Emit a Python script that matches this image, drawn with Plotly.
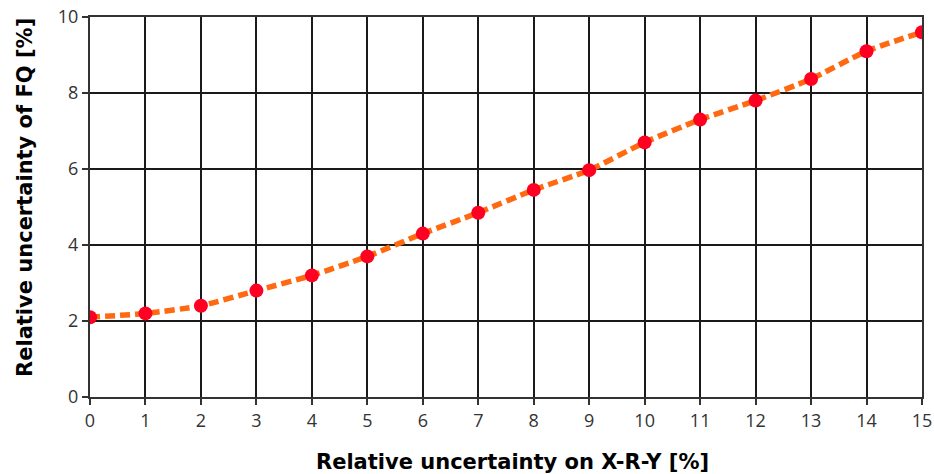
import plotly.graph_objects as go

x_vals = list(range(0, 16))
y_vals = [2.1, 2.2, 2.4, 2.8, 3.2, 3.7, 4.3, 4.85, 5.45, 5.97, 6.7, 7.3, 7.8, 8.37, 9.1, 9.6]
x_ticks = list(range(0, 16))
y_ticks = [0, 2, 4, 6, 8, 10]
x_title = "Relative uncertainty on X-R-Y [%]"
y_title = "Relative uncertainty of FQ [%]"

fig = go.Figure()
fig.add_trace(go.Scatter(
    x=x_vals, y=y_vals, mode="lines",
    line=dict(color="#ff6a10", width=5.5, dash="10px,5px", shape="spline", smoothing=0.6),
    showlegend=False, hoverinfo="skip"))
fig.add_trace(go.Scatter(
    x=x_vals, y=y_vals, mode="markers",
    marker=dict(color="#ff0022", size=14),
    showlegend=False))

axis_common = dict(
    showgrid=True, gridcolor="#1a1a1a", gridwidth=1.5,
    showline=True, linecolor="#333333", linewidth=2, mirror=True,
    ticks="outside", ticklen=6, tickcolor="#333333", tickwidth=1.5,
    zeroline=False, automargin=False,
    tickfont=dict(family="Open Sans, Noto Sans, sans-serif", size=18, color="#333333"),
)
title_font = dict(family="DejaVu Sans, sans-serif", size=21, color="black")

fig.update_layout(
    width=934, height=474,
    margin=dict(l=90, r=12, t=17, b=77),
    paper_bgcolor="white", plot_bgcolor="white",
    xaxis=dict(range=[0, 15], tickvals=x_ticks, **axis_common),
    yaxis=dict(range=[0, 10], tickvals=y_ticks, **axis_common),
    annotations=[
        dict(text="<b>" + x_title + "</b>", xref="paper", yref="paper",
             x=0.508, y=-0.171, xanchor="center", yanchor="middle",
             showarrow=False, font=title_font),
        dict(text="<b>" + y_title + "</b>", xref="paper", yref="paper",
             x=-0.078, y=0.524, xanchor="center", yanchor="middle",
             textangle=-90, showarrow=False, font=title_font),
    ],
)

fig.write_html("out.html", config={"displayModeBar": False},
               post_script="document.body.style.margin='0';document.body.style.overflow='hidden';")
